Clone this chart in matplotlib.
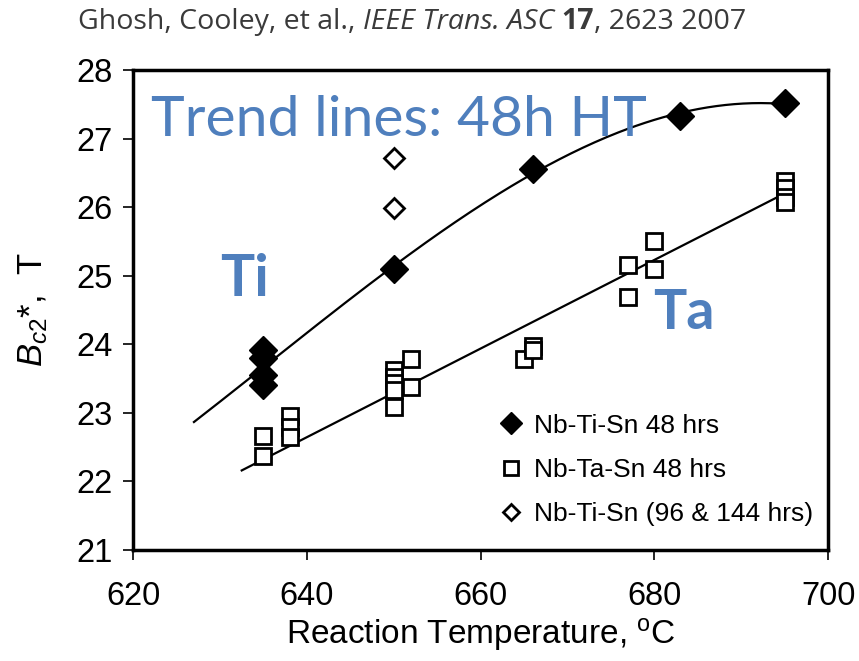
import matplotlib
matplotlib.use("Agg")
import matplotlib.pyplot as plt
import numpy as np

plt.rcParams['font.family'] = ['Liberation Sans', 'DejaVu Sans']
plt.rcParams['mathtext.fontset'] = 'custom'
plt.rcParams['mathtext.rm'] = 'Liberation Sans'
plt.rcParams['mathtext.it'] = 'Liberation Sans:italic'

# Nb-Ti-Sn, 48 h
ti_temp = [635, 635, 635, 635, 650, 666, 683, 695]
ti_bc2 = [23.92, 23.8, 23.55, 23.4, 25.1, 26.55, 27.33, 27.52]

# Nb-Ta-Sn, 48 h
ta_temp = [635, 635, 638, 638, 638, 650, 650, 650, 650, 650, 652, 652,
           665, 666, 666, 677, 677, 680, 680, 695, 695, 695, 695]
ta_bc2 = [22.66, 22.37, 22.95, 22.8, 22.65, 23.62, 23.52, 23.43, 23.33, 23.09,
          23.79, 23.38, 23.79, 23.97, 23.92, 25.16, 24.69, 25.5, 25.1,
          26.38, 26.28, 26.15, 26.08]

# Nb-Ti-Sn, 96 & 144 h
ti_long_temp = [650, 650]
ti_long_bc2 = [26.72, 25.99]

# trend lines: Ti range (cubic fit), Ta straight line ends
ti_trend_range = [627, 695]
ta_trend_temp = [632.5, 695]
ta_trend_bc2 = [22.16, 26.2]

blue = '#4f7fbd'

fig = plt.figure(figsize=(8.59, 6.61), dpi=100)
ax = fig.add_axes([0.155, 0.168, 0.809, 0.726])

ti_fit = np.polyfit(ti_temp, ti_bc2, 3)
xt = np.linspace(ti_trend_range[0], ti_trend_range[1], 200)
ax.plot(xt, np.polyval(ti_fit, xt), color='black', lw=1.6, zorder=2)
ax.plot(ta_trend_temp, ta_trend_bc2, color='black', lw=1.6, zorder=2)

ax.plot(ti_temp, ti_bc2, 'D', color='black', ms=14, ls='none',
        label='Nb-Ti-Sn 48 hrs', zorder=3)
ax.plot(ta_temp, ta_bc2, 's', mfc='white', mec='black', mew=2, ms=11, ls='none',
        label='Nb-Ta-Sn 48 hrs', zorder=3)
ax.plot(ti_long_temp, ti_long_bc2, 'D', mfc='white', mec='black', mew=2, ms=10,
        ls='none', label='Nb-Ti-Sn (96 & 144 hrs)', zorder=3)

ax.set_xlim(620, 700)
ax.set_ylim(21, 28)
ax.set_xticks([620, 640, 660, 680, 700])
ax.set_yticks(range(21, 29))
ax.tick_params(labelsize=23.5, length=7, width=1.2, direction='out', pad=8)
ax.tick_params(axis='x', pad=15)
for s in ax.spines.values():
    s.set_linewidth(2.5)

ax.set_xlabel('Reaction Temperature, $^{\\mathrm{o}}$C', fontsize=24, labelpad=3)
ax.set_ylabel('$B_{c2}$*,  T', fontsize=25, labelpad=19)

leg = ax.legend(loc='lower right', bbox_to_anchor=(1.012, 0.0), frameon=False,
                fontsize=19, handlelength=0.6, handletextpad=0.55,
                labelspacing=0.77)
for h, ms in zip(leg.legend_handles, [11, 9.5, 8.5]):
    h.set_markersize(ms)

ax.text(0.026, 0.862, 'Trend lines: 48h HT', transform=ax.transAxes, color=blue,
        fontsize=41, family='Lato', va='baseline')
ax.text(0.125, 0.530, 'Ti', transform=ax.transAxes, color=blue, fontsize=41,
        family='Lato', weight='bold', va='baseline')
ax.text(0.748, 0.461, 'Ta', transform=ax.transAxes, color=blue, fontsize=40,
        family='Lato', weight='bold', va='baseline')

# citation line, pieces in different styles
pieces = [('Ghosh, Cooley, et al., ', 'normal', 'normal'),
          ('IEEE Trans. ASC ', 'italic', 'normal'),
          ('17', 'normal', 'bold'),
          (', 2623 2007', 'normal', 'normal')]
renderer = fig.canvas.get_renderer()
x0 = 78 / 859
for txt, style, weight in pieces:
    t = fig.text(x0, 1 - 29 / 661, txt, fontsize=20.5, family='Open Sans',
                 style=style, weight=weight, color='#3a3a3a', va='baseline')
    bb = t.get_window_extent(renderer)
    x0 += bb.width / fig.bbox.width

fig.savefig('out.png', dpi=100)
